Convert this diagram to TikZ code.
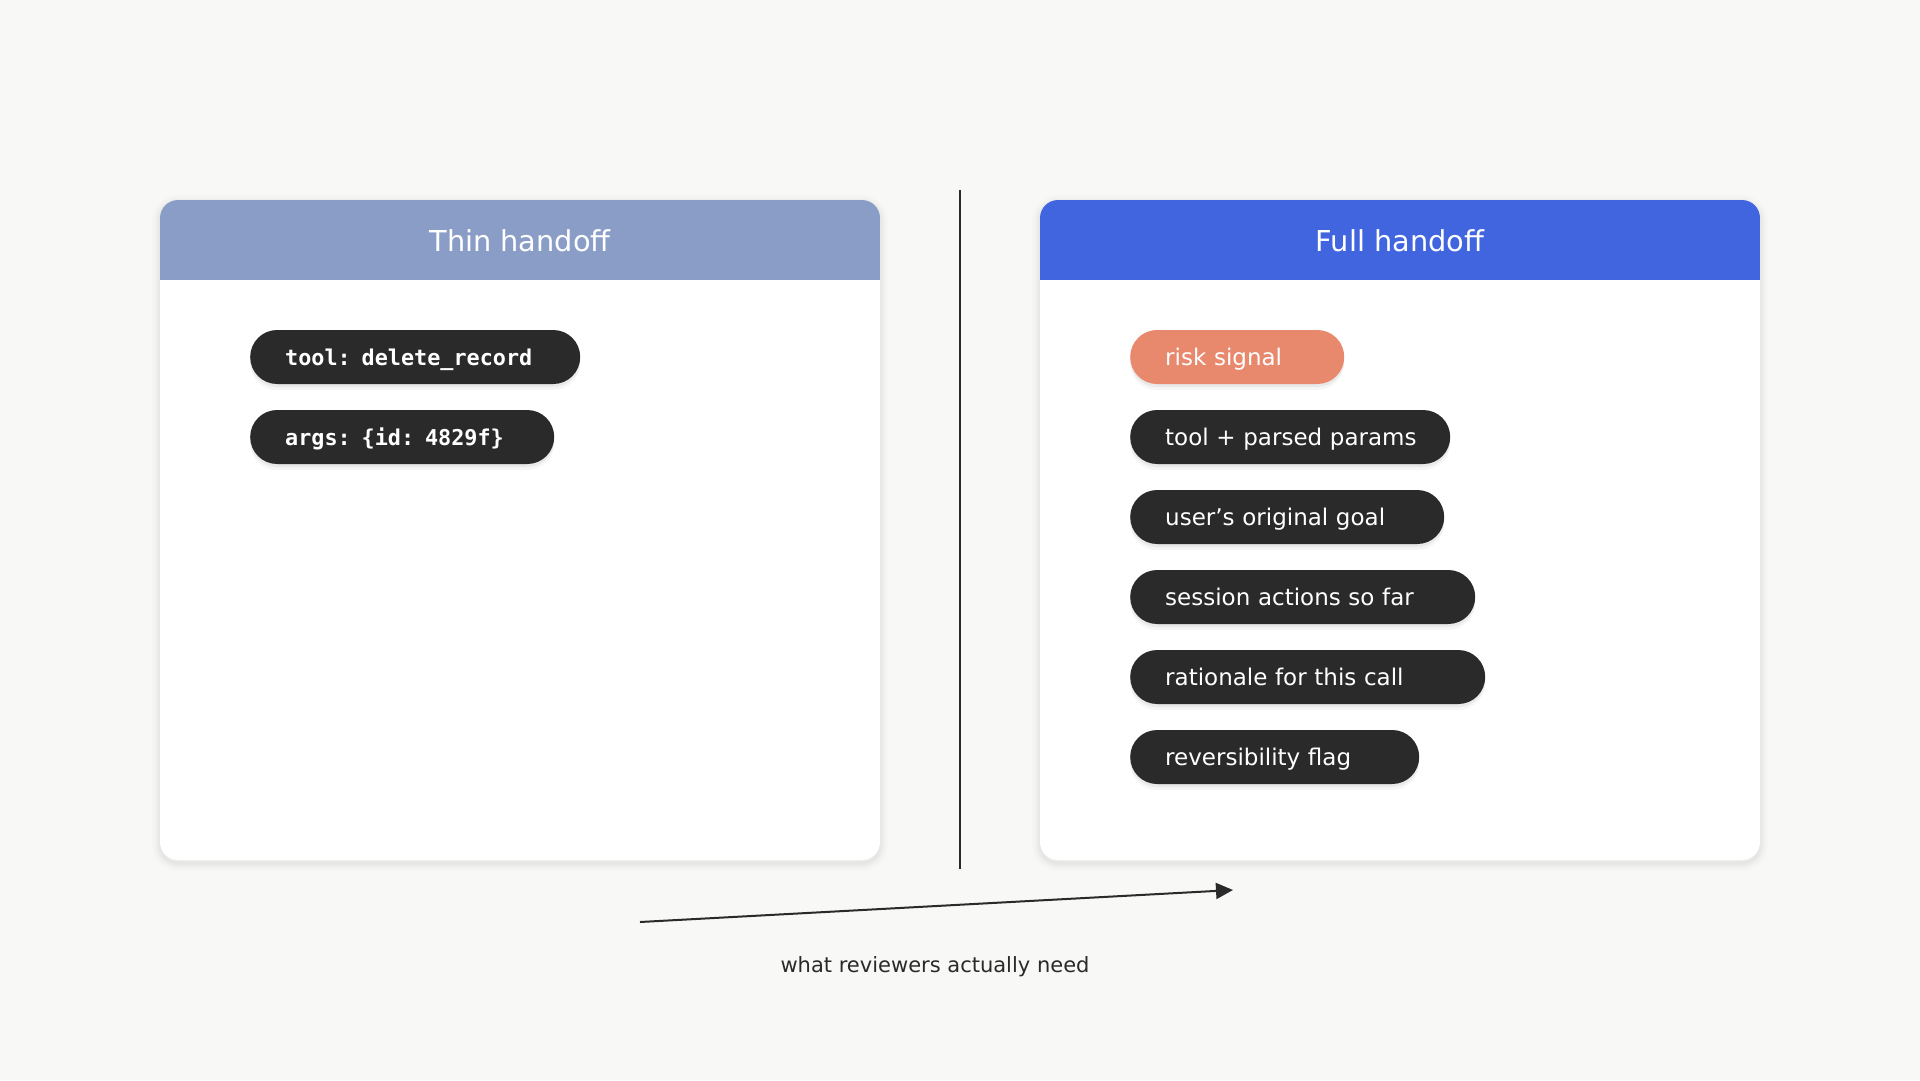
\documentclass[tikz,border=0pt]{standalone}
\usepackage{fontspec}
\setmainfont{DejaVu Sans}
\newfontfamily\monob{DejaVu Sans Mono}
\usetikzlibrary{arrows.meta}
\definecolor{bgc}{HTML}{F8F8F6}
\definecolor{thinhdr}{HTML}{8A9DC6}
\definecolor{fullhdr}{HTML}{4165DE}
\definecolor{riskc}{HTML}{E8886C}
\definecolor{pilldark}{HTML}{2A2A2A}
\definecolor{inkc}{HTML}{2A2A2A}
\tikzset{
  softshade/.style={draw=black, rounded corners=18pt, draw opacity=#1},
  cardbox/.style={fill=white, rounded corners=18pt},
  pill/.style={rectangle, rounded corners=26.9pt, minimum height=54pt,
    inner xsep=35pt, inner ysep=0pt, anchor=west, align=left, text=white,
    text height=20pt, text depth=4pt,
    font=\fontsize{23}{28}\selectfont,
    preaction={fill=black, fill opacity=0.035, transform canvas={yshift=-6pt}},
    preaction={fill=black, fill opacity=0.05, transform canvas={yshift=-3pt}}},
  pw/.style={text width=#1pt-70pt},
  darkpill/.style={pill, fill=pilldark},
  codepill/.style={pill, fill=pilldark, font=\monob\bfseries\fontsize{21.8}{26}\selectfont},
  riskpill/.style={pill, fill=riskc},
  titletext/.style={anchor=base, text=white, font=\fontsize{28.8}{34}\selectfont},
  captext/.style={anchor=base, text=inkc, font=\fontsize{21}{26}\selectfont},
  rule/.style={draw=inkc, line width=2pt},
  flow/.style={draw=inkc, line width=2pt, -{Triangle[length=17pt, width=16pt]}}
}
\newcommand\cardshadow[4]{%
  \foreach \lw/\op in {16/0.012, 11/0.015, 7/0.018, 3/0.025}{%
    \draw[softshade=\op, line width=\lw pt] (#1,#2+3) rectangle (#3,#4+3);}%
}
\begin{document}
\begin{tikzpicture}[x=1pt, y=-1pt]
\useasboundingbox (0,0) rectangle (1920,1080);
\fill[bgc] (0,0) rectangle (1920,1080);

% card shadows and cards
\cardshadow{160}{200}{880}{860}
\cardshadow{1040}{200}{1760}{860}
\fill[cardbox] (160,200) rectangle (880,860);
\fill[cardbox] (1040,200) rectangle (1760,860);
\begin{scope}
  \clip[rounded corners=18pt] (160,200) rectangle (880,860);
  \fill[thinhdr] (160,200) rectangle (880,280);
\end{scope}
\begin{scope}
  \clip[rounded corners=18pt] (1040,200) rectangle (1760,860);
  \fill[fullhdr] (1040,200) rectangle (1760,280);
\end{scope}
\node (thintitle) [titletext] at (520,251.5) {Thin handoff};
\node (fulltitle) [titletext] at (1400,251.5) {Full handoff};

% thin pills
\node (tool) [codepill, pw=330] at (250,357) {\mbox{tool: delete\_record}};
\node (args) [codepill, pw=304] at (250,437) {\mbox{args: \{id: 4829f\}}};

% full pills
\node (risk) [riskpill, pw=214] at (1130,357) {\mbox{risk signal}};
\node (parsed) [darkpill, pw=320] at (1130,437) {\mbox{tool + parsed params}};
\node (goal) [darkpill, pw=314] at (1130,517) {\mbox{user’s original goal}};
\node (session) [darkpill, pw=345] at (1130,597) {\mbox{session actions so far}};
\node (rationale) [darkpill, pw=355] at (1130,677) {\mbox{rationale for this call}};
\node (revers) [darkpill, pw=289] at (1130,757) {\mbox{reversibility flag}};

% divider
\coordinate (divtop) at (960,190);
\coordinate (divbot) at (960,869);
\draw[rule] (divtop) -- (divbot);

% arrow and caption
\coordinate (arrfrom) at (640,922);
\coordinate (arrto) at (1233,890);
\draw[flow] (arrfrom) -- (arrto);
\node (caption) [captext] at (935,972) {what reviewers actually need};
\end{tikzpicture}
\end{document}
